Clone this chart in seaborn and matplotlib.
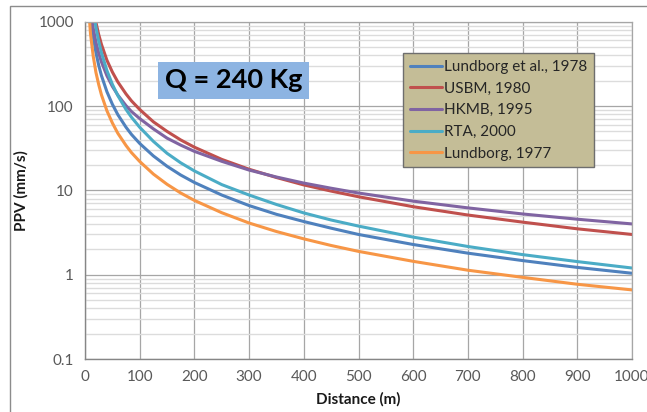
import pandas as pd
import seaborn as sns
import matplotlib.pyplot as plt
from matplotlib.patches import Rectangle
from matplotlib.ticker import FixedLocator, FuncFormatter, LogLocator, NullFormatter

# 读图估计的曲线数据 (距离 m, PPV mm/s)
distance = [5, 10, 15, 20, 25, 30, 40, 50, 60, 75, 85, 100, 125, 150, 175, 200,
            250, 300, 350, 400, 450, 500, 600, 700, 800, 900, 1000]
lundborg_1978 = [3640, 1250, 670, 430, 305, 230, 148, 105, 79, 56, 46, 36, 25.6, 19.3, 15.2, 12.4,
                 8.8, 6.6, 5.2, 4.27, 3.56, 3.0, 2.28, 1.80, 1.47, 1.22, 1.04]
usbm_1980 = [7600, 2740, 1500, 980, 705, 540, 350, 253, 193, 139, 115, 91, 65, 50, 39.6, 32.5,
             23.3, 17.8, 14.2, 11.6, 9.8, 8.4, 6.4, 5.1, 4.2, 3.5, 3.0]
hkmb_1995 = [3700, 1455, 842, 573, 426, 334, 229, 171, 135, 101, 86, 71, 53.6, 41.6, 34.4, 29,
             22.1, 17.4, 14.4, 12.2, 10.6, 9.3, 7.45, 6.2, 5.25, 4.55, 4.0]
rta_2000 = [9000, 2780, 1400, 857, 587, 430, 264, 181, 133, 91, 73.6, 56, 38.1, 27.5, 21.2, 17.0,
            11.7, 8.8, 6.8, 5.4, 4.45, 3.77, 2.79, 2.16, 1.73, 1.43, 1.2]
lundborg_1977 = [2070, 720, 390, 250, 180, 136, 88, 63, 47.5, 34, 28, 22, 15.6, 11.8, 9.3, 7.6,
                 5.43, 4.1, 3.25, 2.66, 2.22, 1.89, 1.44, 1.13, 0.93, 0.77, 0.66]

series_names = ['Lundborg et al., 1978', 'USBM, 1980', 'HKMB, 1995', 'RTA, 2000', 'Lundborg, 1977']
series_colors = ['#4F81BD', '#C0504D', '#8064A2', '#4BACC6', '#F79646']
x_ticks = [0, 100, 200, 300, 400, 500, 600, 700, 800, 900, 1000]
y_ticks = [0.1, 1, 10, 100, 1000]
charge_label = 'Q = 240 Kg'

frames = []
for name, vals in zip(series_names, [lundborg_1978, usbm_1980, hkmb_1995, rta_2000, lundborg_1977]):
    frames.append(pd.DataFrame({'Distance': distance, 'PPV': vals, 'Source': name}))
df = pd.concat(frames, ignore_index=True)

sns.set_theme(style='white')
plt.rcParams['font.family'] = ['Lato', 'DejaVu Sans']

fig = plt.figure(figsize=(6.47, 4.12), dpi=100)
ax = fig.add_axes([0.1314, 0.1286, 0.8454, 0.8187])

sns.lineplot(data=df, x='Distance', y='PPV', hue='Source', hue_order=series_names,
             palette=dict(zip(series_names, series_colors)), linewidth=2.2, ax=ax)

ax.set_yscale('log')
ax.set_xlim(0, 1000)
ax.set_ylim(0.1, 1000)
ax.xaxis.set_major_locator(FixedLocator(x_ticks))
ax.yaxis.set_major_locator(FixedLocator(y_ticks))
ax.yaxis.set_major_formatter(FuncFormatter(lambda v, p: '{:g}'.format(v)))
ax.yaxis.set_minor_locator(LogLocator(base=10, subs=range(2, 10)))
ax.yaxis.set_minor_formatter(NullFormatter())

ax.grid(which='major', axis='both', color='#a6a6a6', lw=0.9)
ax.grid(which='minor', axis='y', color='#dcdcdc', lw=1.0)
ax.set_axisbelow(True)

ax.tick_params(axis='both', which='major', direction='out', length=5, width=0.9,
               color='#868686', labelsize=11, labelcolor='#595959', pad=3)
ax.tick_params(axis='both', which='minor', length=0)
for side in ['left', 'bottom']:
    ax.spines[side].set_color('#868686')
    ax.spines[side].set_linewidth(1.0)
for side in ['top', 'right']:
    ax.spines[side].set_color('#a6a6a6')
    ax.spines[side].set_linewidth(0.9)

ax.set_xlabel('Distance (m)', fontsize=11, fontweight='bold', color='#1a1a1a')
ax.set_ylabel('PPV (mm/s)', fontsize=11, fontweight='bold', color='#1a1a1a')
ax.xaxis.set_label_coords(0.5, -0.098)
ax.yaxis.set_label_coords(-0.104, 0.5)

leg = ax.legend(loc='upper left', bbox_to_anchor=(0.581, 0.907), borderaxespad=0,
                fontsize=11, frameon=True, fancybox=False, handlelength=2.1,
                handletextpad=0.15, labelspacing=0.5, borderpad=0.45)
leg.get_frame().set_facecolor('#C4BD97')
leg.get_frame().set_edgecolor('#6e6e6e')
leg.get_frame().set_linewidth(1.0)
leg.get_frame().set_alpha(1)
for t in leg.get_texts():
    t.set_color('#262626')
for h in leg.get_lines():
    h.set_linewidth(2.2)

ax.text(0.2715, 0.827, charge_label, transform=ax.transAxes, ha='center', va='center',
        fontsize=19.5, fontweight='bold', color='black',
        bbox=dict(boxstyle='square,pad=0.24', facecolor='#8DB4E2', edgecolor='none'))

# 外框
fig.patches.append(Rectangle((10 / 647, -0.1), 1.2, 1.1 - 6 / 412, transform=fig.transFigure,
                             fill=False, edgecolor='#8c8c8c', lw=1.0))

plt.savefig('out.png', dpi=100)
